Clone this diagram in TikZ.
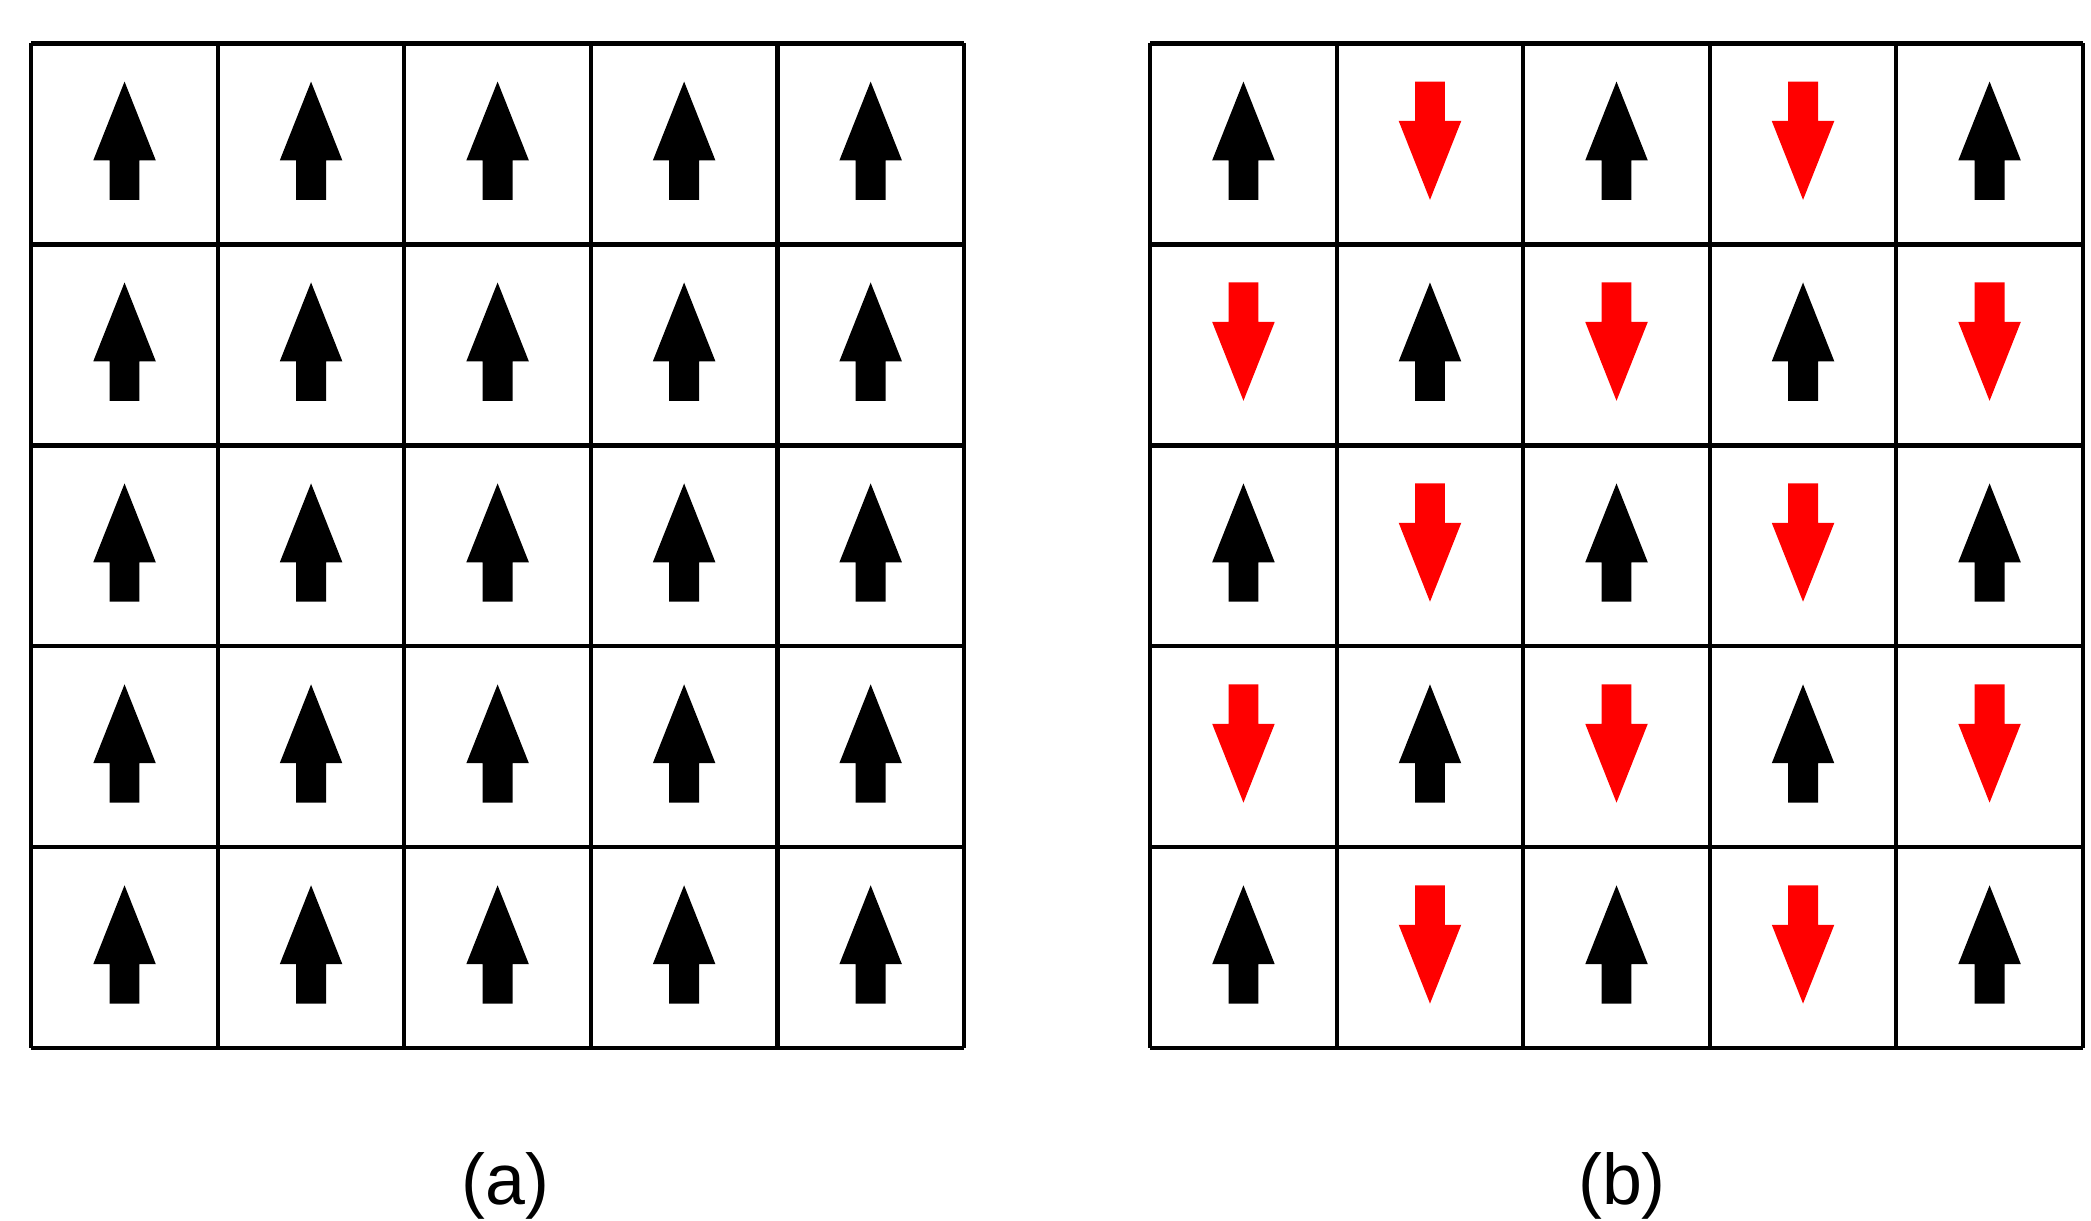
\documentclass[tikz,border=0pt]{standalone}
\usepackage{fontspec}
\setmainfont{Liberation Sans}
\begin{document}
\begin{tikzpicture}[x=0.01cm,y=-0.01cm,
  grid/.style={line width=0.9pt,black},
  up/.style={fill=black},
  down/.style={fill=red},
  lab/.style={font=\fontsize{15}{18}\selectfont}]
\useasboundingbox (0,0) rectangle (1538,898);
\def\cw{137.2}\def\ch{147.8}
\foreach \ox/\nm in {23/a,846/b}{
  \foreach \i in {0,...,5}{
    \draw[grid] ({\ox+\i*\cw},32) -- ({\ox+\i*\cw},771);
    \draw[grid] (\ox,{32+\i*\ch}) -- ({\ox+5*\cw},{32+\i*\ch});
  }
}
% arrows
\foreach \c in {0,...,4}{
  \foreach \r in {0,...,4}{
    \pgfmathsetmacro{\cx}{23+(\c+0.5)*\cw}
    \pgfmathsetmacro{\cy}{32+\r*\ch}
    \fill[up] (\cx,\cy+28) -- (\cx+23,\cy+86) -- (\cx+11,\cy+86) -- (\cx+11,\cy+115) -- (\cx-11,\cy+115) -- (\cx-11,\cy+86) -- (\cx-23,\cy+86) -- cycle;
    \pgfmathsetmacro{\bx}{846+(\c+0.5)*\cw}
    \pgfmathtruncatemacro{\parity}{mod(\c+\r,2)}
    \ifnum\parity=0
      \fill[up] (\bx,\cy+28) -- (\bx+23,\cy+86) -- (\bx+11,\cy+86) -- (\bx+11,\cy+115) -- (\bx-11,\cy+115) -- (\bx-11,\cy+86) -- (\bx-23,\cy+86) -- cycle;
    \else
      \fill[down] (\bx,\cy+115) -- (\bx+23,\cy+57) -- (\bx+11,\cy+57) -- (\bx+11,\cy+28) -- (\bx-11,\cy+28) -- (\bx-11,\cy+57) -- (\bx-23,\cy+57) -- cycle;
    \fi
  }
}
\node[lab] (la) at (372,872) {(a)};
\node[lab] (lb) at (1193,872) {(b)};
\end{tikzpicture}
\end{document}
